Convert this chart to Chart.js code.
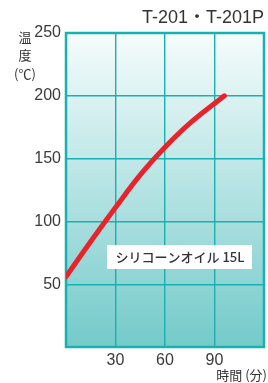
<!DOCTYPE html>
<html>
<head>
<meta charset="utf-8">
<script src="https://cdn.jsdelivr.net/npm/chart.js@4"></script>
<style>
  html, body { margin: 0; padding: 0; background: #fff; }
  #wrap { width: 268px; height: 383px; position: relative; }
</style>
</head>
<body>
<div id="wrap"><canvas id="heatChart" width="268" height="383"></canvas></div>
<script>
const minutes = [0, 15, 30, 45, 60, 75, 96];
const temps = [56, 84, 111, 137, 159, 178, 200];
const yTicks = [50, 100, 150, 200, 250];
const xTicks = [30, 60, 90];

const FONT = '"Noto Sans CJK JP", "Noto Sans", sans-serif';
const NUMFONT = '"Liberation Sans", "Noto Sans CJK JP", sans-serif';
const teal = '#18b0b0';

const decor = {
    id: 'decor',
    beforeDraw(chart) {
        const { ctx, chartArea: a } = chart;
        const g = ctx.createLinearGradient(0, a.top, 0, a.bottom);
        g.addColorStop(0, '#f6fcfc');
        g.addColorStop(1, '#74caca');
        ctx.save();
        ctx.fillStyle = g;
        ctx.fillRect(a.left, a.top, a.right - a.left, a.bottom - a.top);
        ctx.restore();
    },
    beforeDatasetsDraw(chart) {
        const { ctx, chartArea: a } = chart;
        ctx.save();
        ctx.strokeStyle = teal;
        ctx.lineWidth = 2.5;
        ctx.strokeRect(a.left, a.top, a.right - a.left, a.bottom - a.top);
        ctx.restore();
    },
    afterDraw(chart) {
        const { ctx } = chart;
        ctx.save();
        ctx.fillStyle = '#333';
        // title
        ctx.font = '18px ' + NUMFONT;
        ctx.textAlign = 'right';
        ctx.textBaseline = 'middle';
        ctx.fillText('T-201・T-201P', 264, 18);
        // y title, stacked
        ctx.font = '13px ' + FONT;
        ctx.textAlign = 'center';
        ctx.fillText('温', 25, 37);
        ctx.fillText('度', 25, 55);
        ctx.fillText('(℃)', 25, 74);
        // x title
        ctx.textAlign = 'right';
        ctx.fillText('時間 (分)', 267, 375);
        // label box
        ctx.fillStyle = '#fff';
        ctx.fillRect(107, 245, 145, 24);
        ctx.fillStyle = '#333';
        ctx.font = '500 13px ' + FONT;
        ctx.textAlign = 'center';
        ctx.fillText('シリコーンオイル 15L', 180, 257);
        ctx.restore();
    }
};

new Chart(document.getElementById('heatChart').getContext('2d'), {
    type: 'line',
    data: {
        datasets: [
            {
                data: minutes.map((m, i) => ({ x: m, y: temps[i] })),
                borderColor: '#e8232b',
                borderWidth: 5,
                borderCapStyle: 'round',
                pointRadius: 0,
                tension: 0.4,
                fill: false,
            },
        ],
    },
    options: {
        responsive: false,
        animation: false,
        layout: { padding: { top: 33, right: 2, left: 0, bottom: 0 } },
        plugins: { legend: { display: false }, tooltip: { enabled: false } },
        scales: {
            x: {
                type: 'linear',
                min: 0,
                max: 120,
                afterBuildTicks: (s) => { s.ticks = [0, ...xTicks, 120].map(v => ({ value: v })); },
                afterFit: (s) => { s.height = 36; },
                ticks: {
                    color: '#3a3a3a',
                    font: { family: NUMFONT, size: 16 },
                    padding: 4,
                    maxRotation: 0,
                    callback: (v) => (xTicks.includes(v) ? v : ''),
                },
                grid: { color: teal, lineWidth: 1.4, drawTicks: false },
                border: { display: false },
            },
            y: {
                min: 0,
                max: 250,
                afterBuildTicks: (s) => { s.ticks = [0, ...yTicks].map(v => ({ value: v })); },
                afterFit: (s) => { s.width = 66; },
                ticks: {
                    color: '#3a3a3a',
                    font: { family: NUMFONT, size: 16 },
                    padding: 5,
                    callback: (v) => (yTicks.includes(v) ? v : ''),
                },
                grid: { color: teal, lineWidth: 1.4, drawTicks: false },
                border: { display: false },
            },
        },
    },
    plugins: [decor],
});
</script>
</body>
</html>
